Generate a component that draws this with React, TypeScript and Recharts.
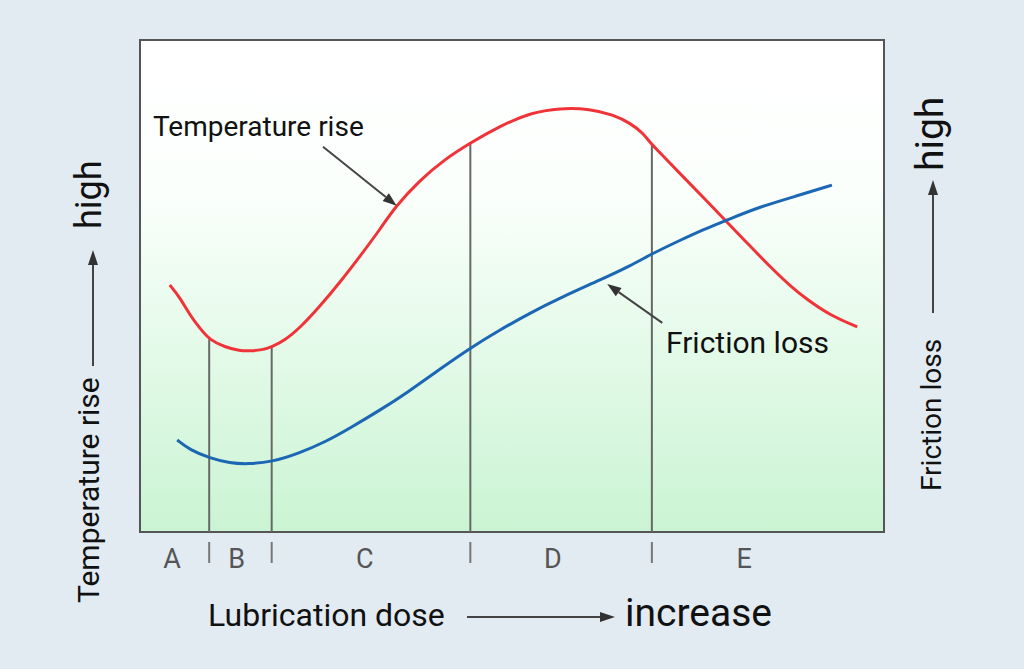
import React from 'react';
import { LineChart, Line, XAxis, YAxis, ReferenceArea, ReferenceLine, ReferenceDot } from 'recharts';

// Lubrication dose (0-100, relative) and curve levels (0-100, relative)
const temperatureDose = [4.0, 5.4, 6.7, 8.1, 9.4, 11.4, 13.4, 14.8, 16.4, 17.7, 19.5, 21.5, 24.2, 26.9, 29.6, 32.3, 34.3, 37.6, 41.0, 44.4, 48.4, 52.4, 56.5, 60.5, 63.6, 65.9, 67.6, 68.8, 70.6, 73.0, 75.9, 78.9, 82.0, 85.1, 87.4, 89.7, 92.7, 96.4];
const temperatureRise = [50.2, 47.6, 44.1, 41.3, 39.0, 37.6, 36.8, 36.8, 37.0, 37.6, 39.0, 41.5, 45.9, 50.8, 56.1, 61.6, 66.1, 71.5, 75.8, 79.1, 82.5, 85.2, 86.2, 86.0, 84.8, 83.1, 81.1, 78.7, 76.0, 72.2, 67.7, 63.0, 58.1, 53.3, 50.0, 47.2, 44.1, 41.7];

const frictionDose = [5.0, 6.7, 9.4, 12.1, 14.4, 17.7, 21.5, 24.9, 28.2, 32.3, 35.9, 40.3, 44.4, 48.4, 52.4, 56.5, 61.8, 65.9, 69.0, 72.6, 75.9, 78.9, 83.3, 88.7, 93.0];
const frictionLoss = [18.7, 16.7, 15.0, 14.0, 13.8, 14.2, 16.1, 18.3, 21.1, 24.8, 28.3, 33.1, 37.4, 41.1, 44.5, 47.6, 51.2, 54.1, 56.7, 59.3, 61.6, 63.4, 66.1, 68.5, 70.5];

const zoneLabels = ['A', 'B', 'C', 'D', 'E'];
const zoneCenters = [4.3, 13.0, 30.2, 55.5, 81.2];
const zoneBoundaries = [9.3, 17.7, 44.4, 68.8];
const boundaryTops = [39.2, 37.6, 79.1, 78.7];

const tempData = temperatureDose.map((d, i) => ({ dose: d, value: temperatureRise[i] }));
const frictionData = frictionDose.map((d, i) => ({ dose: d, value: frictionLoss[i] }));

const FONT = 'Roboto, "Noto Sans", sans-serif';

const ZoneTick = (props: any) => {
  const { x, y, payload } = props;
  const idx = zoneCenters.indexOf(payload.value);
  if (idx >= 0) {
    return (
      <text x={x} y={y + 28} textAnchor="middle" fontSize={27} fill="#555" fontFamily={FONT}>
        {zoneLabels[idx]}
      </text>
    );
  }
  return <line x1={x} x2={x} y1={y + 2} y2={y + 23} stroke="#777" strokeWidth={2} />;
};

const ArrowShape = (p: any) => {
  const { x1, y1, x2, y2 } = p;
  const dx = x2 - x1;
  const dy = y2 - y1;
  const len = Math.sqrt(dx * dx + dy * dy) || 1;
  const ux = dx / len;
  const uy = dy / len;
  const hl = 14;
  const hw = 5;
  const bx = x2 - ux * hl;
  const by = y2 - uy * hl;
  return (
    <g>
      <line x1={x1} y1={y1} x2={bx} y2={by} stroke="#444" strokeWidth={2} />
      <polygon
        points={`${x2},${y2} ${bx - uy * hw},${by + ux * hw} ${bx + uy * hw},${by - ux * hw}`}
        fill="#333"
      />
    </g>
  );
};

const tempArrow = [{ x: 24.6, y: 78.3 }, { x: 34.5, y: 66.3 }];
const frictionArrow = [{ x: 70.2, y: 42.5 }, { x: 62.8, y: 50.4 }];

export default function App() {
  const ticks = [...zoneCenters, ...zoneBoundaries];
  return (
    <div style={{ position: 'absolute', left: 0, top: 0, width: 1024, height: 669, background: '#e2ebf2' }}>
      <LineChart width={1024} height={669} margin={{ top: 40, right: 140, bottom: 107, left: 140 }}>
        <defs>
          <linearGradient id="plotBg" x1="0" y1="0" x2="0" y2="1">
            <stop offset="0" stopColor="#ffffff" />
            <stop offset="0.3" stopColor="#fbfffc" />
            <stop offset="1" stopColor="#caf4d3" />
          </linearGradient>
        </defs>
        <XAxis
          type="number"
          dataKey="dose"
          domain={[0, 100]}
          ticks={ticks}
          interval={0}
          tick={(p: any) => <ZoneTick {...p} />}
          tickLine={false}
          axisLine={false}
          height={30}
          allowDataOverflow
        />
        <YAxis type="number" domain={[0, 100]} hide allowDataOverflow />
        <ReferenceArea x1={0} x2={100} y1={0} y2={100} fill="url(#plotBg)" fillOpacity={1} stroke="#555" strokeWidth={2} />
        {zoneBoundaries.map((b, i) => (
          <ReferenceLine
            key={'b' + i}
            segment={[{ x: b, y: 0 }, { x: b, y: boundaryTops[i] }]}
            stroke="#666966"
            strokeWidth={2}
          />
        ))}
        <Line data={tempData} dataKey="value" type="basis" stroke="#ef3338" strokeWidth={3} dot={false} isAnimationActive={false} />
        <Line data={frictionData} dataKey="value" type="basis" stroke="#1c67b4" strokeWidth={3} dot={false} isAnimationActive={false} />
        <ReferenceLine segment={tempArrow} shape={(p: any) => <ArrowShape {...p} />} />
        <ReferenceLine segment={frictionArrow} shape={(p: any) => <ArrowShape {...p} />} />
        <ReferenceDot
          x={1.75}
          y={80.5}
          r={0}
          shape={(p: any) => (
            <text x={p.cx} y={p.cy} fontSize={28} fill="#111" fontFamily={FONT}>Temperature rise</text>
          )}
        />
        <ReferenceDot
          x={70.7}
          y={36.4}
          r={0}
          shape={(p: any) => (
            <text x={p.cx} y={p.cy} fontSize={30} fill="#111" fontFamily={FONT}>Friction loss</text>
          )}
        />
        <g fontFamily={FONT} fill="#111">
          <text transform="translate(99,603) rotate(-90)" fontSize={30}>Temperature rise</text>
          <line x1={93} y1={366} x2={93} y2={262} stroke="#444" strokeWidth={2} />
          <polygon points="93,250 88,265 98,265" fill="#333" />
          <text transform="translate(101,229) rotate(-90)" fontSize={36}>high</text>

          <text transform="translate(941,491) rotate(-90)" fontSize={28}>Friction loss</text>
          <line x1={933} y1={313} x2={933} y2={192} stroke="#444" strokeWidth={2} />
          <polygon points="933,180 928,195 938,195" fill="#333" />
          <text transform="translate(943,171) rotate(-90)" fontSize={39}>high</text>

          <text x={208} y={626} fontSize={32}>Lubrication dose</text>
          <line x1={467} y1={617} x2={603} y2={617} stroke="#444" strokeWidth={2} />
          <polygon points="615,617 600,612 600,622" fill="#333" />
          <text x={625} y={626} fontSize={39}>increase</text>
        </g>
      </LineChart>
    </div>
  );
}
